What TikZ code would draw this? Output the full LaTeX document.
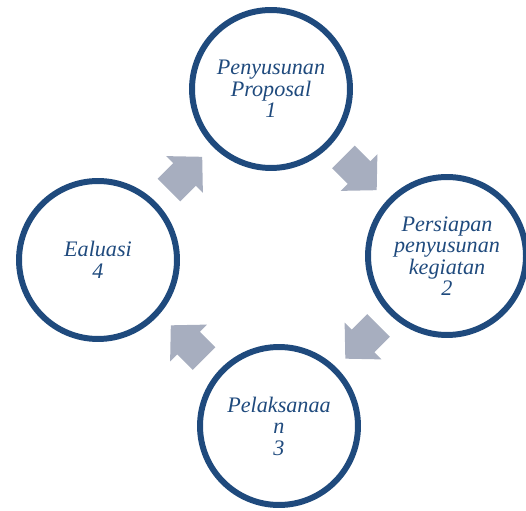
\documentclass[tikz,border=0pt]{standalone}
\usepackage{fontspec}
\setmainfont{Liberation Serif}
\usetikzlibrary{calc}
\definecolor{ring}{HTML}{1F4A7D}
\definecolor{flow}{HTML}{A7AEBF}

\begin{document}
\begin{tikzpicture}[x=0.02cm,y=0.02cm,
  stage/.style={circle,draw=ring,line width=3.4pt,minimum size=3.16cm,inner sep=0pt,
    text=ring,font=\itshape\fontsize{12.6}{12.2}\selectfont,align=center},
  blk/.style={fill=flow}]
  \useasboundingbox (0,0) rectangle (526,510);
  % stages of the cycle
  \node[stage] (prop) at (271,421) {Penyusunan\\Proposal\\1};
  \node[stage] (prep) at (447,254) {Persiapan\\penyusunan\\kegiatan\\2};
  \node[stage] (exec) at (279,84) {Pelaksanaa\\n\\3};
  \node[stage] (eval) at (98,250) {Ealuasi\\4};
  % block arrows between the stages
  \foreach \a/\b/\r in {eval/prop/45, prop/prep/-45, prep/exec/-135, exec/eval/135}
    \fill[blk,shift={($(\a)!0.5!(\b)$)},rotate=\r]
      (-22,-16) -- (0,-16) -- (0,-26) -- (25,0) -- (0,26) -- (0,16) -- (-22,16) -- cycle;
\end{tikzpicture}
\end{document}
